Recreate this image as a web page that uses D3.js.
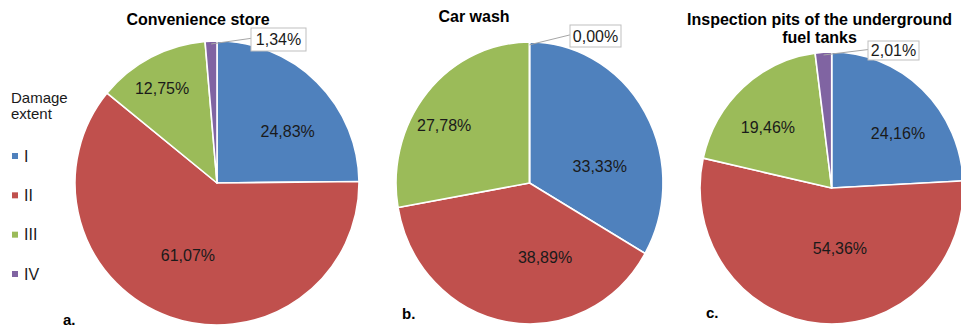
<!DOCTYPE html>
<html>
<head>
<meta charset="utf-8">
<script src="https://cdn.jsdelivr.net/npm/d3@7"></script>
<style>
  html, body { margin: 0; padding: 0; background: #fff; }
  svg { display: block; font-family: "Liberation Sans", Arial, sans-serif; }
</style>
</head>
<body>
<svg id="chart" width="961" height="327"></svg>
<script>
// Damage extent categories and their colours
const categories = ["I", "II", "III", "IV"];
const colors = ["#4F81BD", "#C0504D", "#9BBB59", "#8064A2"];

// Share of damage (%) per category for each facility
const convenienceStore = [24.83, 61.07, 12.75, 1.34];
const carWash = [33.33, 38.89, 27.78, 0.00];
const inspectionPits = [24.16, 54.36, 19.46, 2.01];

// Panel titles and tags
const titles = [["Convenience store"], ["Car wash"], ["Inspection pits of the underground", "fuel tanks"]];
const panelTags = ["a.", "b.", "c."];

// Layout of each panel: pie centre/radii, title, tag, and label placement
// (labelPolar: [angle in degrees clockwise from top, fraction of radius] per slice;
//  callout: box offset from pie centre for the label drawn outside the pie)
const panels = [
  { values: convenienceStore, cx: 217, cy: 183, rx: 142, ry: 142,
    titleX: 198, titleY: 25, tagX: 63, tagY: 325,
    labelPolar: [[54, 0.615], [202, 0.547], [330, 0.773], null],
    callout: { slice: 3, x: 34, y: -155, w: 55, h: 23 } },
  { values: carWash, cx: 529.5, cy: 183, rx: 133.5, ry: 141,
    titleX: 474, titleY: 22, tagX: 402, tagY: 319,
    labelPolar: [[77, 0.54], [167.5, 0.537], [302.7, 0.76], null],
    callout: { slice: 3, x: 40.5, y: -158, w: 51, h: 22 } },
  { values: inspectionPits, cx: 831.7, cy: 188, rx: 131.7, ry: 136,
    titleX: 819.5, titleY: 25, tagX: 706, tagY: 318,
    labelPolar: [[51.2, 0.646], [171.9, 0.446], [312.8, 0.66], null],
    callout: { slice: 3, x: 36.3, y: -147, w: 51, h: 19 } }
];

const fmt = v => v.toFixed(2).replace(".", ",") + "%";
const svg = d3.select("#chart");
const pie = d3.pie().sort(null).value(d => d);
const rad = deg => deg * Math.PI / 180;
const labelSize = 16;

panels.forEach((p, pi) => {
  const arcs = pie(p.values);
  const arc = d3.arc().innerRadius(0).outerRadius(p.rx);

  // slices (drawn on a circle, then scaled vertically to the panel's ellipse)
  svg.append("g")
    .attr("transform", `translate(${p.cx},${p.cy}) scale(1,${p.ry / p.rx})`)
    .selectAll("path")
    .data(arcs)
    .join("path")
    .attr("d", arc)
    .attr("fill", (d, i) => colors[i])
    .attr("stroke", "#fff")
    .attr("stroke-width", 1.6)
    .attr("stroke-linejoin", "round");

  // in-slice value labels
  const g = svg.append("g");
  arcs.forEach((d, i) => {
    const lp = p.labelPolar[i];
    if (!lp) return;
    const a = rad(lp[0]);
    g.append("text")
      .attr("x", p.cx + lp[1] * p.rx * Math.sin(a))
      .attr("y", p.cy - lp[1] * p.ry * Math.cos(a))
      .attr("dy", "0.36em")
      .attr("text-anchor", "middle")
      .attr("font-size", labelSize)
      .attr("fill", "#1a1a1a")
      .text(fmt(d.data));
  });

  // callout label with leader line for the small slice
  const c = p.callout;
  const d = arcs[c.slice];
  const mid = (d.startAngle + d.endAngle) / 2;
  const sx = p.cx + 0.98 * p.rx * Math.sin(mid);
  const sy = p.cy - 0.98 * p.ry * Math.cos(mid);
  const bx = p.cx + c.x, by = p.cy + c.y;
  g.append("line")
    .attr("x1", sx).attr("y1", sy)
    .attr("x2", bx).attr("y2", by + c.h * 0.45)
    .attr("stroke", "#a6a6a6").attr("stroke-width", 1);
  g.append("rect")
    .attr("x", bx).attr("y", by).attr("width", c.w).attr("height", c.h)
    .attr("fill", "#fff").attr("stroke", "#bfbfbf").attr("stroke-width", 1);
  g.append("text")
    .attr("x", bx + c.w / 2).attr("y", by + c.h / 2)
    .attr("dy", "0.36em").attr("text-anchor", "middle")
    .attr("font-size", labelSize).attr("fill", "#1a1a1a")
    .text(fmt(d.data));

  // title
  const t = svg.append("text")
    .attr("x", p.titleX).attr("y", p.titleY)
    .attr("text-anchor", "middle")
    .attr("font-size", 16).attr("font-weight", "bold").attr("fill", "#000");
  titles[pi].forEach((line, li) => {
    t.append("tspan").attr("x", p.titleX).attr("dy", li === 0 ? 0 : 18).text(line);
  });

  // panel tag
  svg.append("text")
    .attr("x", p.tagX).attr("y", p.tagY)
    .attr("font-size", 15).attr("font-weight", "bold").attr("fill", "#000")
    .text(panelTags[pi]);
});

// legend
const legend = svg.append("g");
legend.append("text").attr("x", 11).attr("y", 103).attr("font-size", 15).attr("fill", "#1a1a1a").text("Damage");
legend.append("text").attr("x", 11).attr("y", 119).attr("font-size", 15).attr("fill", "#1a1a1a").text("extent");
const ly = d3.scalePoint().domain(categories).range([156, 274]);
categories.forEach((cat, i) => {
  legend.append("rect")
    .attr("x", 12).attr("y", ly(cat) - 3).attr("width", 6).attr("height", 6)
    .attr("fill", colors[i]);
  legend.append("text")
    .attr("x", 24).attr("y", ly(cat)).attr("dy", "0.36em")
    .attr("font-size", 16).attr("fill", "#1a1a1a")
    .text(cat);
});
</script>
</body>
</html>
